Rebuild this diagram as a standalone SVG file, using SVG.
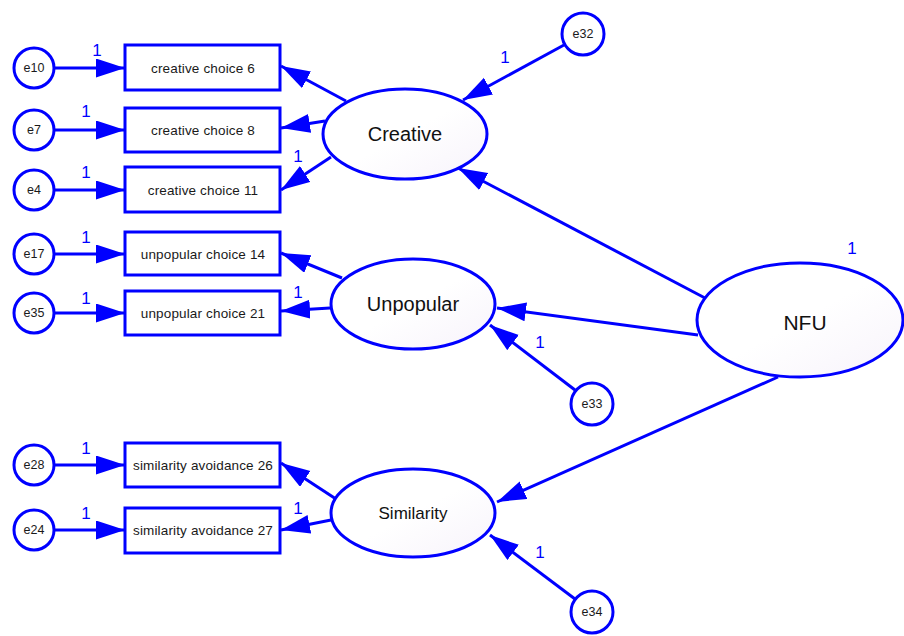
<svg xmlns="http://www.w3.org/2000/svg" width="904" height="636" viewBox="0 0 904 636">
  <defs>
    <linearGradient id="latentFill" x1="0" y1="0" x2="1" y2="1">
      <stop offset="0" stop-color="#ffffff"/>
      <stop offset="0.5" stop-color="#ffffff"/>
      <stop offset="1" stop-color="#f7f3fb"/>
    </linearGradient>
    <marker id="head" markerUnits="userSpaceOnUse" markerWidth="32" markerHeight="20" refX="29" refY="9.5" orient="auto">
      <path d="M0,0 L29,9.5 L0,19 Z" fill="#0000ff"/>
    </marker>
    <style>
      .err circle { fill: #ffffff; stroke: #0000ff; stroke-width: 3; }
      .obs rect { fill: #ffffff; stroke: #0000ff; stroke-width: 3; }
      .lat ellipse { fill: url(#latentFill); stroke: #0000ff; stroke-width: 3; }
      .small { font-family: "Liberation Sans", Arial, sans-serif; font-size: 12.5px; fill: #1a1a1a; text-anchor: middle; dominant-baseline: central; }
      .item { font-family: "Liberation Sans", Arial, sans-serif; font-size: 13.5px; letter-spacing: 0.15px; fill: #1a1a1a; text-anchor: middle; dominant-baseline: central; }
      .big { font-family: "Liberation Sans", Arial, sans-serif; fill: #111111; text-anchor: middle; dominant-baseline: central; }
      .one { font-family: "Liberation Sans", Arial, sans-serif; font-size: 17px; fill: #0000ff; text-anchor: middle; dominant-baseline: central; }
      #connectors line { stroke: #0000ff; stroke-width: 3; marker-end: url(#head); }
    </style>
  </defs>

  <rect width="904" height="636" fill="#ffffff"/>

  <!-- paths and loadings -->
  <g id="connectors">
    <!-- error terms into indicators -->
    <line x1="55" y1="68" x2="125" y2="68"/>
    <line x1="55" y1="130" x2="125" y2="130"/>
    <line x1="55" y1="190" x2="125" y2="190"/>
    <line x1="55" y1="254" x2="125" y2="254"/>
    <line x1="55" y1="313" x2="125" y2="313"/>
    <line x1="55" y1="465" x2="125" y2="465"/>
    <line x1="55" y1="530" x2="125" y2="530"/>
    <!-- factor loadings -->
    <line x1="346" y1="101" x2="281" y2="66"/>
    <line x1="325" y1="121" x2="281" y2="128"/>
    <line x1="331" y1="157" x2="281" y2="190"/>
    <line x1="342" y1="278" x2="281" y2="253"/>
    <line x1="330" y1="308" x2="281" y2="311"/>
    <line x1="336" y1="499" x2="281" y2="463"/>
    <line x1="331" y1="520" x2="281" y2="530"/>
    <!-- disturbances -->
    <line x1="564" y1="45" x2="463" y2="100"/>
    <line x1="575" y1="390" x2="490" y2="325"/>
    <line x1="575" y1="599" x2="490" y2="535"/>
    <!-- second-order factor -->
    <line x1="705" y1="298" x2="458" y2="168"/>
    <line x1="698" y1="335" x2="497" y2="308"/>
    <line x1="778" y1="377" x2="497" y2="502"/>
  </g>

  <!-- fixed parameter labels -->
  <g id="labels">
    <text class="one" x="97" y="50">1</text>
    <text class="one" x="86" y="111">1</text>
    <text class="one" x="86" y="172">1</text>
    <text class="one" x="86" y="237">1</text>
    <text class="one" x="86" y="298">1</text>
    <text class="one" x="86" y="448">1</text>
    <text class="one" x="86" y="513">1</text>
    <text class="one" x="298" y="156">1</text>
    <text class="one" x="298" y="292">1</text>
    <text class="one" x="298" y="508">1</text>
    <text class="one" x="505" y="57">1</text>
    <text class="one" x="540" y="342">1</text>
    <text class="one" x="540" y="552">1</text>
    <text class="one" x="852" y="248">1</text>
  </g>

  <!-- error terms -->
  <g id="e10" class="err"><circle cx="34" cy="68" r="20"/><text class="small" x="34" y="68">e10</text></g>
  <g id="e7" class="err"><circle cx="34" cy="130" r="20"/><text class="small" x="34" y="130">e7</text></g>
  <g id="e4" class="err"><circle cx="34" cy="190" r="20"/><text class="small" x="34" y="190">e4</text></g>
  <g id="e17" class="err"><circle cx="34" cy="254" r="20"/><text class="small" x="34" y="254">e17</text></g>
  <g id="e35" class="err"><circle cx="34" cy="313" r="20"/><text class="small" x="34" y="313">e35</text></g>
  <g id="e28" class="err"><circle cx="34" cy="465" r="20"/><text class="small" x="34" y="465">e28</text></g>
  <g id="e24" class="err"><circle cx="34" cy="530" r="20"/><text class="small" x="34" y="530">e24</text></g>
  <g id="e32" class="err"><circle cx="583" cy="34" r="21"/><text class="small" x="583" y="34">e32</text></g>
  <g id="e33" class="err"><circle cx="592" cy="404" r="21"/><text class="small" x="592" y="404">e33</text></g>
  <g id="e34" class="err"><circle cx="592" cy="612" r="21"/><text class="small" x="592" y="612">e34</text></g>

  <!-- observed indicators -->
  <g id="cc6" class="obs"><rect x="125" y="45" width="155" height="45"/><text class="item" x="203" y="68">creative choice 6</text></g>
  <g id="cc8" class="obs"><rect x="125" y="108" width="155" height="44"/><text class="item" x="203" y="130">creative choice 8</text></g>
  <g id="cc11" class="obs"><rect x="125" y="167" width="155" height="45"/><text class="item" x="203" y="190">creative choice 11</text></g>
  <g id="uc14" class="obs"><rect x="125" y="232" width="155" height="43"/><text class="item" x="203" y="254">unpopular choice 14</text></g>
  <g id="uc21" class="obs"><rect x="125" y="291" width="155" height="44"/><text class="item" x="203" y="313">unpopular choice 21</text></g>
  <g id="sa26" class="obs"><rect x="125" y="443" width="155" height="44"/><text class="item" x="203" y="465">similarity avoidance 26</text></g>
  <g id="sa27" class="obs"><rect x="125" y="508" width="155" height="45"/><text class="item" x="203" y="530">similarity avoidance 27</text></g>

  <!-- latent factors -->
  <g id="creative" class="lat"><ellipse cx="405" cy="134" rx="82" ry="45"/><text class="big" x="405" y="134" font-size="20">Creative</text></g>
  <g id="unpopular" class="lat"><ellipse cx="413" cy="304" rx="82" ry="45"/><text class="big" x="413" y="304" font-size="20">Unpopular</text></g>
  <g id="similarity" class="lat"><ellipse cx="413" cy="513" rx="82" ry="44"/><text class="big" x="413" y="513" font-size="17">Similarity</text></g>
  <g id="nfu" class="lat"><ellipse cx="800" cy="320" rx="103" ry="57"/><text class="big" x="805" y="322" font-size="21">NFU</text></g>
</svg>
